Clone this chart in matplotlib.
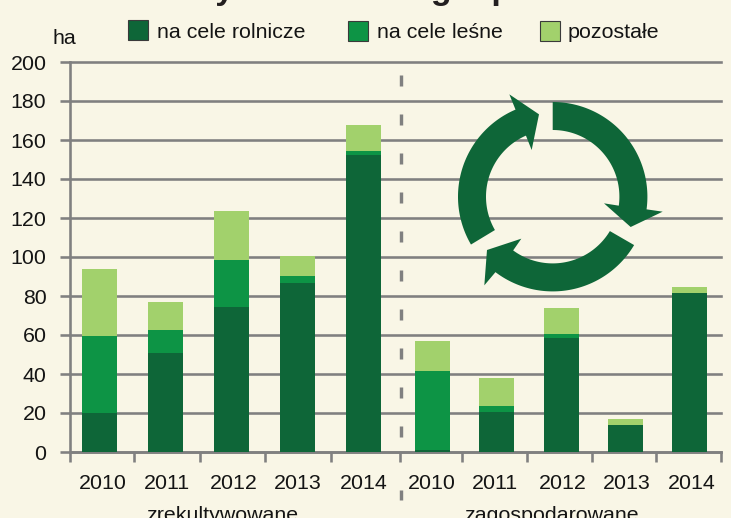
import numpy as np
import matplotlib
matplotlib.use("Agg")
import matplotlib.pyplot as plt
from matplotlib.patches import Polygon, Rectangle
from matplotlib.lines import Line2D
from matplotlib.transforms import Affine2D

years = ["2010", "2011", "2012", "2013", "2014"]
groups = ["zrekultywowane", "zagospodarowane"]
series_names = ["na cele rolnicze", "na cele leśne", "pozostałe"]
rolnicze = [20, 50.8, 74.4, 86.7, 152.3, 1.2, 20.5, 58.5, 14, 81.5]
lesne = [39.5, 11.8, 24.2, 3.6, 2, 40.3, 3.1, 2, 0, 0]
pozostale = [34.3, 14.4, 25, 10.2, 13.4, 15.5, 14.4, 13.5, 3, 3]
title = "Zrekultywowane i zagospodarowane"
y_ticks = list(range(0, 201, 20))

W, H = 731, 518
BG = "#F9F6E6"
DARK, MID, LIGHT = "#0E6638", "#0D9445", "#A2D16C"
GRID = "#808080"
INK = "#141414"
plt.rcParams["font.family"] = ["Liberation Sans", "DejaVu Sans"]
FS = 15.4
PT = 72 / 100  # points per pixel

fig = plt.figure(figsize=(W / 100, H / 100), dpi=100, facecolor=BG)
ax = fig.add_axes([70 / W, 1 - 452 / H, (721 - 70) / W, 390 / H], facecolor="none")
ax.set_xlim(70, 721)
ax.set_ylim(0, 200)

# pixel coordinates (y down) of the whole figure
pix = Affine2D().scale(1 / W, -1 / H).translate(0, 1) + fig.transFigure

# grid
ax.set_yticks(y_ticks)
ax.set_yticklabels([str(v) for v in y_ticks], fontsize=FS, color=INK)
ax.tick_params(axis="y", length=10 * PT, width=2.6 * PT, color=GRID, pad=13.5 * PT)
ax.yaxis.grid(True, color=GRID, lw=2.6 * PT, zorder=1, clip_on=False)
ax.set_axisbelow(True)
for s in ("top", "right"):
    ax.spines[s].set_visible(False)
for s in ("left", "bottom"):
    ax.spines[s].set_color(GRID)
    ax.spines[s].set_linewidth(2.6 * PT)
    ax.spines[s].set_zorder(1.5)

# bars
centers = np.r_[99.5 + 66 * np.arange(5), 432.5 + 64.25 * np.arange(5)]
bottom = np.zeros(10)
for vals, col, name in zip((rolnicze, lesne, pozostale), (DARK, MID, LIGHT), series_names):
    ax.bar(centers, vals, width=35, bottom=bottom, color=col, zorder=3, lw=0, label=name)
    bottom = bottom + np.array(vals)

# x ticks and labels
edges = [70, 134, 200, 265, 331, 399.5, 462, 527, 592, 656, 721]
ax.set_xticks(edges, minor=True)
ax.tick_params(axis="x", which="minor", length=10 * PT, width=2.6 * PT, color=GRID)
ax.set_xticks(centers + np.r_[3.5, 1, 2, 0.5, 0.2, -0.5, -1.5, 2, 1.5, 2.5])
ax.set_xticklabels(years * 2, fontsize=FS, color=INK)
ax.tick_params(axis="x", which="major", length=0, pad=15.5)

# group labels (clipped by the lower edge as in the source)
for name, gx in zip(groups, (222, 551)):
    fig.text(gx, 521, name, transform=pix, ha="center", va="baseline", fontsize=FS, color=INK)

# separator
fig.add_artist(Line2D([400.5, 400.5], [75, 440], transform=pix, color=GRID, lw=3.4 * PT,
                      linestyle=(0, (11 / 3.4, 28 / 3.4)), dash_capstyle="butt", zorder=2))
fig.add_artist(Line2D([400.5, 400.5], [490, 500], transform=pix, color=GRID, lw=3.4 * PT, zorder=2,
                      solid_capstyle="butt"))

# title, cut by the top edge: only its descenders show
fig.text(102, -1, title, transform=pix, ha="left", va="baseline", fontsize=34 * PT,
         fontweight="bold", color="#231F20")

# unit
fig.text(52.5, 44, "ha", transform=pix, ha="left", va="baseline", fontsize=FS, color=INK)

# legend
for name, col, sx, sy, tx in zip(series_names, (DARK, MID, LIGHT), (128, 348, 540), (19.5, 21, 20.5), (157, 377, 568)):
    fig.add_artist(Rectangle((sx, sy), 20, 20, transform=pix, facecolor=col, edgecolor="#3a3a3a", lw=0.8))
    fig.text(tx, 37.5, name, transform=pix, ha="left", va="baseline", fontsize=FS, color=INK)

# recycling icon (decoration), geometry in pixels about its centre
CX, CY, RO, RI = 552.7, 196.7, 94.7, 66.7


def ang(p):
    return np.arctan2((p[1] - 380) / 3, (p[0] - 368) / 3)


def to_px(p):
    return (430 + p[0] / 3, 70 + p[1] / 3)


def arrow(o0, o1, head, i1, i0):
    a0, a1 = ang(o0), ang(o1)
    if a1 < a0:
        a1 += 2 * np.pi
    b0, b1 = ang(i0), ang(i1)
    if b1 < b0:
        b1 += 2 * np.pi
    t = np.linspace(a0, a1, 80)
    outer = np.c_[CX + RO * np.cos(t), CY + RO * np.sin(t)]
    t = np.linspace(b1, b0, 80)
    inner = np.c_[CX + RI * np.cos(t), CY + RI * np.sin(t)]
    pts = np.vstack([outer, [to_px(h) for h in head], inner])
    fig.add_artist(Polygon(pts, closed=True, transform=pix, facecolor=DARK, edgecolor="none", zorder=2.5))


arrow((368, 96), (650, 418), [(698, 425), (602, 471), (522, 400)], (567, 407), (368, 182))
arrow((612, 525), (195, 608), [(163, 646), (171, 540), (274, 506)], (248, 543), (541, 484))
arrow((122, 524), (257, 120), [(238, 73), (327, 133), (305, 240)], (290, 202), (193, 481))

fig.savefig("out.png", dpi=100, facecolor=BG)
